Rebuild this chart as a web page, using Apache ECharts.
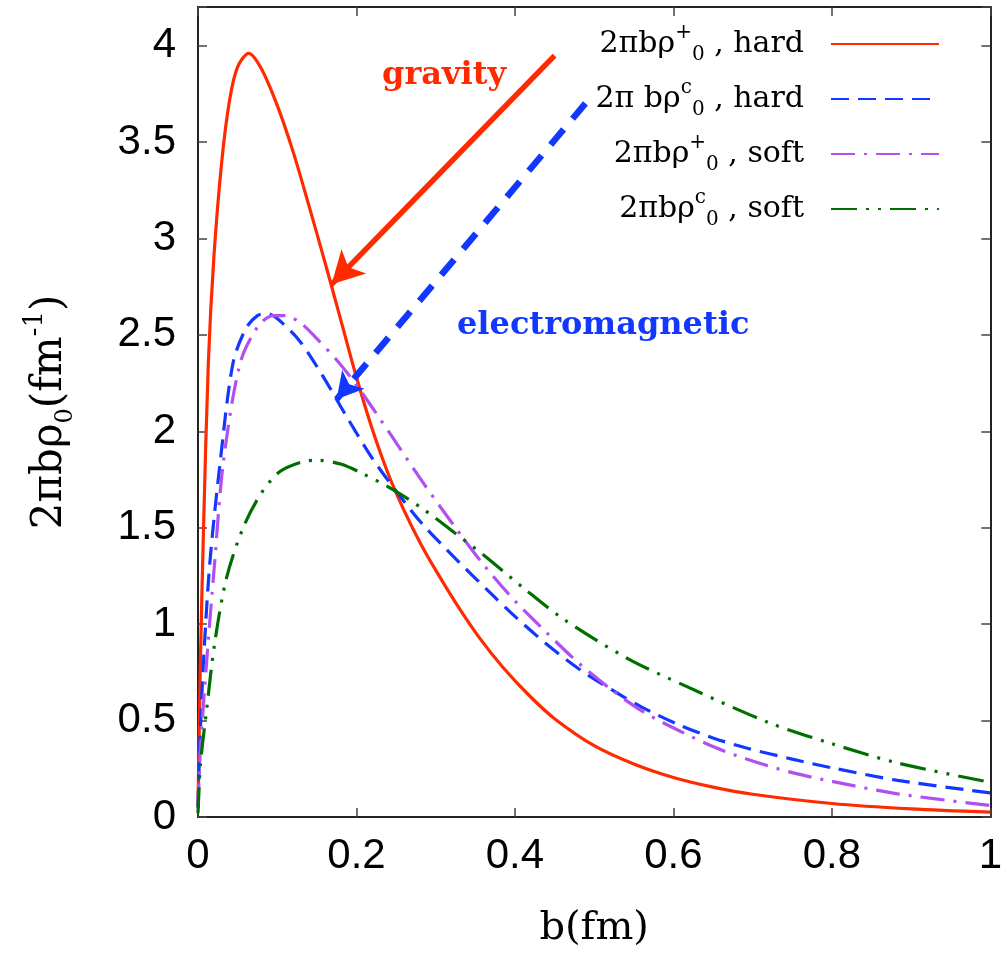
<!DOCTYPE html>
<html>
<head>
<meta charset="utf-8">
<script src="https://cdn.jsdelivr.net/npm/echarts@6/dist/echarts.min.js"></script>
<style>html,body{margin:0;padding:0;background:#fff;}#c{width:1005px;height:954px;}</style>
</head>
<body>
<div id="c"></div>
<script>
// ---- data (b in fm, value in fm^-1) ----
const xTickLabels = ['0', '0.2', '0.4', '0.6', '0.8', '1'];
const yTickLabels = ['0', '0.5', '1', '1.5', '2', '2.5', '3', '3.5', '4'];

const seriesNames = ['plusHard', 'chargeHard', 'plusSoft', 'chargeSoft'];

const plusHard = [
  [0, 0.05], [0.001, 0.3], [0.003, 0.8], [0.007, 1.5], [0.013, 2.35], [0.02, 2.9],
  [0.03, 3.4], [0.04, 3.72], [0.05, 3.89], [0.064, 3.96], [0.08, 3.88], [0.1, 3.69],
  [0.12, 3.45], [0.14, 3.17], [0.16, 2.88], [0.18, 2.58], [0.2, 2.28], [0.22, 2.01],
  [0.24, 1.78], [0.26, 1.59], [0.28, 1.425], [0.3, 1.28], [0.33, 1.08], [0.355, 0.93],
  [0.385, 0.775], [0.418, 0.63], [0.45, 0.51], [0.5, 0.37], [0.55, 0.275], [0.6, 0.205],
  [0.65, 0.155], [0.7, 0.118], [0.8, 0.07], [0.9, 0.042], [1.0, 0.025]
];
const chargeHard = [
  [0, 0.05], [0.002, 0.35], [0.007, 0.81], [0.015, 1.32], [0.028, 1.84], [0.044, 2.35],
  [0.06, 2.53], [0.075, 2.6], [0.088, 2.61], [0.1, 2.585], [0.128, 2.47], [0.157, 2.29],
  [0.187, 2.08], [0.22, 1.86], [0.25, 1.69], [0.283, 1.52], [0.325, 1.34], [0.367, 1.17],
  [0.4, 1.04], [0.439, 0.9], [0.48, 0.77], [0.522, 0.66], [0.56, 0.57], [0.606, 0.48],
  [0.65, 0.41], [0.69, 0.36], [0.75, 0.3], [0.8, 0.255], [0.883, 0.19], [1.0, 0.125]
];
const plusSoft = [
  [0, 0.05], [0.003, 0.35], [0.011, 0.81], [0.021, 1.32], [0.032, 1.84], [0.053, 2.35],
  [0.075, 2.54], [0.095, 2.6], [0.11, 2.6], [0.13, 2.56], [0.15, 2.48], [0.175, 2.37],
  [0.2, 2.24], [0.242, 1.99], [0.283, 1.74], [0.325, 1.5], [0.36, 1.31], [0.4, 1.12],
  [0.439, 0.96], [0.48, 0.8], [0.522, 0.66], [0.56, 0.55], [0.606, 0.45], [0.653, 0.36],
  [0.7, 0.29], [0.75, 0.23], [0.8, 0.185], [0.883, 0.12], [1.0, 0.06]
];
const chargeSoft = [
  [0, 0.02], [0.003, 0.27], [0.011, 0.56], [0.021, 0.9], [0.036, 1.24], [0.057, 1.5],
  [0.08, 1.68], [0.103, 1.79], [0.13, 1.84], [0.15, 1.85], [0.18, 1.83], [0.208, 1.78],
  [0.245, 1.7], [0.283, 1.6], [0.325, 1.47], [0.36, 1.36], [0.41, 1.19], [0.46, 1.03],
  [0.543, 0.82], [0.615, 0.68], [0.72, 0.49], [0.8, 0.38], [0.883, 0.28], [1.0, 0.18]
];

// annotation arrows (data coordinates: start -> end)
const gravityArrow = [[0.45, 3.948], [0.1686, 2.762]];
const emArrow = [[0.489, 3.70], [0.175, 2.166]];

const legendLabels = {
  plusHard: '{t|2πbρ}{sup|+}{sub|0}{t| , hard}',
  chargeHard: '{t|2π bρ}{sup|c}{sub|0}{t| , hard}',
  plusSoft: '{t|2πbρ}{sup|+}{sub|0}{t| , soft}',
  chargeSoft: '{t|2πbρ}{sup|c}{sub|0}{t| , soft}'
};

const RED = '#ff2a00', BLUE = '#1238ff', PURPLE = '#b24ff0', GREEN = '#006e00';
const SERIF = '"DejaVu Serif", "Liberation Serif", serif';
const SANS = '"Liberation Sans", Arial, sans-serif';

const chart = echarts.init(document.getElementById('c'), null, { renderer: 'canvas' });

const frameAxisLine = { show: true, onZero: false, lineStyle: { color: '#222', width: 2 } };
const frameTick = { show: true, inside: true, length: 9, lineStyle: { color: '#444', width: 1.5 } };

function lineSeries(name, data, color, type, arrow, arrowStyle, arrowSize) {
  const s = {
    name: name, type: 'line', data: data, smooth: 0.3, symbol: 'none', showSymbol: false,
    lineStyle: { color: color, width: 3.2, type: type },
    itemStyle: { color: color },
    z: 3
  };
  if (arrow) {
    s.markLine = {
      silent: true, animation: false,
      symbol: ['none', 'arrow'], symbolSize: arrowSize,
      label: { show: false },
      lineStyle: Object.assign({ color: color }, arrowStyle),
      data: [[{ coord: arrow[0] }, { coord: arrow[1] }]]
    };
  }
  return s;
}

const option = {
  animation: false,
  backgroundColor: '#fff',
  grid: { left: 198, right: 12, top: 7, bottom: 129, containLabel: false },
  xAxis: [
    {
      type: 'value', min: 0, max: 1, interval: 0.2, position: 'bottom',
      axisLine: frameAxisLine, axisTick: frameTick, splitLine: { show: false },
      axisLabel: {
        color: '#000', fontSize: 42, fontFamily: SANS, margin: 18,
        formatter: function (v) { const i = Math.round(v / 0.2); return Math.abs(v - i * 0.2) < 1e-9 ? xTickLabels[i] : ''; }
      },
      name: 'b(fm)', nameLocation: 'middle', nameGap: 92,
      nameTextStyle: { color: '#000', fontSize: 40, fontFamily: SERIF }
    },
    {
      type: 'value', min: 0, max: 1, interval: 0.2, position: 'top',
      axisLine: frameAxisLine, axisTick: frameTick, axisLabel: { show: false }, splitLine: { show: false }
    }
  ],
  yAxis: [
    {
      type: 'value', min: 0, max: 4.2, interval: 0.5, position: 'left',
      axisLine: frameAxisLine, axisTick: frameTick, splitLine: { show: false },
      axisLabel: {
        color: '#000', fontSize: 42, fontFamily: SANS, margin: 22,
        formatter: function (v) { const i = Math.round(v / 0.5); return Math.abs(v - i * 0.5) < 1e-9 && i < yTickLabels.length ? yTickLabels[i] : ''; }
      },
      name: '{t|2πbρ}{sub|0}{t|(fm}{sup|-1}{t|)}',
      nameLocation: 'middle', nameRotate: 90, nameGap: 120,
      nameTextStyle: {
        color: '#000',
        rich: {
          t: { fontSize: 42, fontFamily: SERIF, color: '#000', lineHeight: 56, verticalAlign: 'middle' },
          sub: { fontSize: 24, fontFamily: SERIF, color: '#000', lineHeight: 24, verticalAlign: 'bottom' },
          sup: { fontSize: 26, fontFamily: SERIF, color: '#000', lineHeight: 26, verticalAlign: 'top' }
        }
      }
    },
    {
      type: 'value', min: 0, max: 4.2, interval: 0.5, position: 'right',
      axisLine: frameAxisLine, axisTick: frameTick, axisLabel: { show: false }, splitLine: { show: false }
    }
  ],
  legend: {
    orient: 'vertical', right: 60, top: 18, align: 'right',
    itemWidth: 108, itemHeight: 12, itemGap: 13,
    data: seriesNames,
    selectedMode: false,
    itemStyle: { opacity: 0 },
    formatter: function (name) { return legendLabels[name]; },
    textStyle: {
      padding: [0, 22, 0, 0],
      rich: {
        t: { fontSize: 30, fontFamily: SERIF, color: '#000', lineHeight: 42, verticalAlign: 'middle' },
        sup: { fontSize: 20, fontFamily: SERIF, color: '#000', lineHeight: 20, verticalAlign: 'top' },
        sub: { fontSize: 20, fontFamily: SERIF, color: '#000', lineHeight: 20, verticalAlign: 'bottom' }
      }
    }
  },
  graphic: [
    {
      type: 'text', left: 382, top: 60, silent: true,
      style: { text: 'gravity', fill: RED, font: 'bold 32px ' + SERIF }
    },
    {
      type: 'text', left: 457, top: 310, silent: true,
      style: { text: 'electromagnetic', fill: BLUE, font: 'bold 32px ' + SERIF }
    }
  ],
  series: [
    lineSeries('plusHard', plusHard, RED, 'solid', gravityArrow, { width: 5.5, type: 'solid' }, [26, 32]),
    lineSeries('chargeHard', chargeHard, BLUE, [18, 9], emArrow, { width: 6.5, type: [20, 14] }, [22, 26]),
    lineSeries('plusSoft', plusSoft, PURPLE, [24, 9, 3, 9], null),
    lineSeries('chargeSoft', chargeSoft, GREEN, [26, 9, 3, 9, 3, 9], null)
  ]
};
chart.setOption(option);
</script>
</body>
</html>
